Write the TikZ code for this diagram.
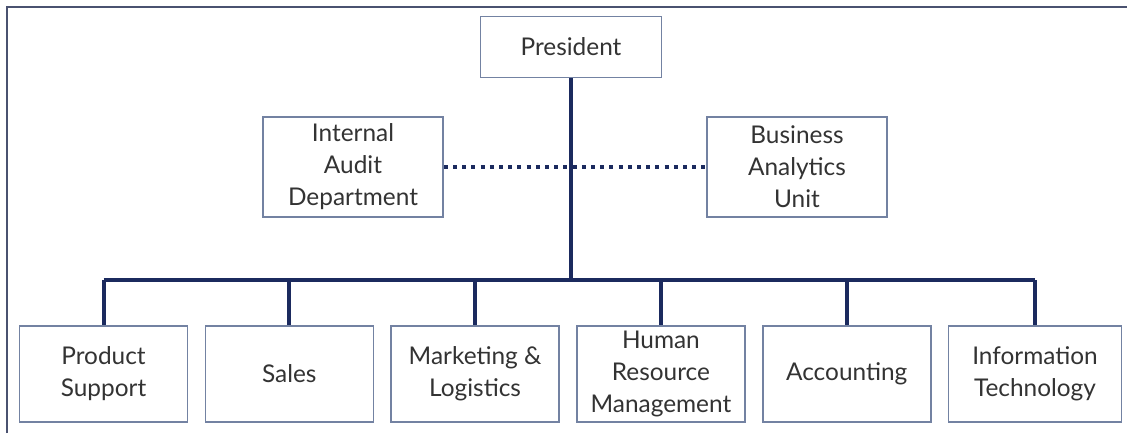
\documentclass[tikz,border=0pt]{standalone}
\usepackage{fontspec}
\setmainfont{Lato}
\usetikzlibrary{positioning}

\definecolor{navy}{HTML}{1B2A5E}
\definecolor{boxline}{HTML}{7382A2}
\definecolor{frameline}{HTML}{4A5270}
\definecolor{txt}{HTML}{333333}

\begin{document}
\begin{tikzpicture}[x=0.5pt,y=-0.5pt,
    unit/.style={draw=boxline,line width=0.8pt,fill=white,align=center,
      text=txt,font=\fontsize{12.2pt}{16pt}\selectfont,
      inner sep=0pt,minimum width=84pt,minimum height=48pt},
    orgline/.style={draw=navy,line width=2pt},
    dotline/.style={draw=navy,line width=2pt,dash pattern=on 2pt off 2.6pt}]
  \useasboundingbox (0,0) rectangle (1127,433);
  \draw[frameline,line width=1pt] (7,433) -- (7,7) -- (1127,7);

  \node[unit,minimum width=90.5pt,minimum height=30.5pt] (pres) at (571,47) {President};
  \node[unit,minimum width=90pt,minimum height=50pt] (audit) at (353,167) {Internal\\Audit\\Department};
  \node[unit,minimum width=90pt,minimum height=50pt] (bau) at (797,167) {Business\\Analytics\\Unit};

  \node[unit] (ps) at (103.5,374) {Product\\Support};
  \node[unit] (sales) [right=8.1pt of ps] {Sales};
  \node[unit] (mkt) [right=8.1pt of sales] {Marketing \&\\Logistics};
  \node[unit] (hrm) [right=8.1pt of mkt] {Human\\Resource\\Management};
  \node[unit] (acc) [right=8.1pt of hrm] {Accounting};
  \node[unit,minimum width=86.5pt] (it) [right=8.1pt of acc] {Information\\Technology};

  \coordinate (bus) at (571,280);

  \path[dotline] (audit) -- (bau);
  \path[orgline] (pres.south) -- (bus);
  \path[orgline] (ps.north |- bus) -- (it.north |- bus);
  \foreach \n in {ps,sales,mkt,hrm,acc,it}
    \path[orgline] (\n.north |- bus) -- (\n.north);
\end{tikzpicture}
\end{document}
